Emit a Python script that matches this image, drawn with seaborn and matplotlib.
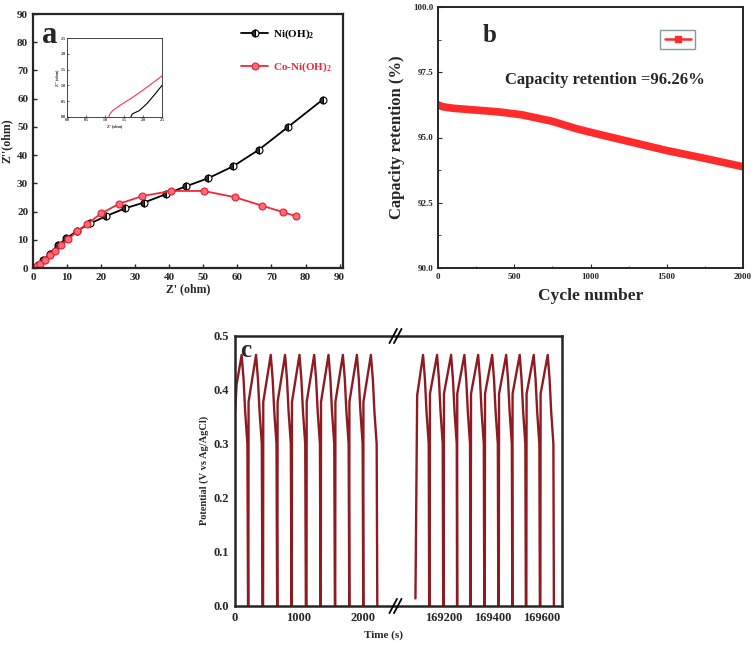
import numpy as np
import matplotlib
matplotlib.use('Agg')
import matplotlib.pyplot as plt
import seaborn as sns
from matplotlib.lines import Line2D

sns.set_style('ticks')
plt.rcParams['font.family'] = ['Liberation Serif', 'DejaVu Serif']
plt.rcParams['font.weight'] = 'bold'
plt.rcParams['axes.labelweight'] = 'bold'
plt.rcParams['mathtext.fontset'] = 'custom'
plt.rcParams['mathtext.rm'] = 'Liberation Serif:bold'
plt.rcParams['mathtext.bf'] = 'Liberation Serif:bold'
plt.rcParams['mathtext.it'] = 'Liberation Serif:italic:bold'
plt.rcParams['mathtext.default'] = 'bf'
plt.rcParams['xtick.direction'] = 'in'
plt.rcParams['ytick.direction'] = 'in'

# ---- panel a : Nyquist plot ----
ni_x = [0.8, 1.5, 2.9, 4.9, 7.3, 9.8, 12.9, 16.8, 21.5, 26.9, 32.6, 38.9, 44.8, 51.4, 58.7, 66.3, 74.9, 85.1]
ni_y = [0.4, 1.0, 2.7, 5.1, 8.1, 10.5, 13.1, 15.8, 18.4, 21.1, 23.2, 26.1, 28.9, 31.8, 36.0, 41.9, 50.0, 59.7]
coni_x = [1.2, 2.2, 3.4, 4.9, 6.4, 8.3, 10.3, 13.0, 15.9, 20.1, 25.2, 32.1, 40.6, 50.1, 59.2, 67.2, 73.4, 77.1]
coni_y = [0.6, 1.5, 3.0, 4.5, 6.1, 8.3, 10.1, 13.1, 15.6, 19.4, 22.7, 25.5, 27.3, 27.3, 25.1, 22.1, 19.8, 18.4]

# inset (high-frequency region)
ins_ni_x = [1.68, 1.72, 1.9, 2.1, 2.3, 2.5]
ins_ni_y = [0.0, 0.1, 0.2, 0.42, 0.7, 1.0]
ins_coni_x = [1.1, 1.12, 1.2, 1.4, 1.7, 2.0, 2.5]
ins_coni_y = [0.0, 0.08, 0.2, 0.37, 0.6, 0.85, 1.3]

# ---- panel b : cycling stability ----
cycles = [0, 30, 100, 250, 400, 550, 750, 900, 1000, 1250, 1500, 1750, 2000]
retention = [96.25, 96.18, 96.12, 96.05, 95.98, 95.87, 95.62, 95.35, 95.2, 94.85, 94.5, 94.2, 93.88]

# ---- panel c : charge/discharge cycles ----
left_peaks = [104, 329, 559, 783, 1008, 1238, 1462, 1687, 1906, 2125]
right_peaks = [169116, 169173, 169230, 169284, 169340, 169397, 169454, 169509, 169566, 169623]
v_peak = 0.465
left_start_t, left_start_v = [0, 25], [0.356, 0.41]
right_start_t, right_start_v = [169085, 169092], [0.014, 0.39]
left_chg_dt, left_chg_v = [-120, -117], [0.0, 0.378]
right_chg_dt, right_chg_v = [-30, -29], [0.0, 0.393]
left_dis_dt, left_dis_v = [30, 55, 90, 100], [0.42, 0.36, 0.30, 0.0]
right_dis_dt, right_dis_v = [7.5, 14, 23, 25], [0.42, 0.36, 0.30, 0.0]


def build_gcd(peaks, start_t, start_v, chg_dt, chg_v, dis_dt, dis_v):
    t, v = list(start_t), list(start_v)
    for i, tp in enumerate(peaks):
        if i > 0:
            t += [tp + d for d in chg_dt]
            v += chg_v
        t.append(tp)
        v.append(v_peak)
        t += [tp + d for d in dis_dt]
        v += dis_v
    return t, v


W, H = 756, 646
fig = plt.figure(figsize=(W / 100, H / 100), dpi=100)


def box(l, t, r, b):
    return [l / W, 1 - b / H, (r - l) / W, (b - t) / H]


# ================= a =================
ax_a = fig.add_axes(box(33, 14, 343, 268))
sns.lineplot(x=ni_x, y=ni_y, ax=ax_a, color='black', lw=1.3, marker='o', markersize=5,
             fillstyle='left', markerfacecoloralt='white', markeredgecolor='black',
             markerfacecolor='#333333', markeredgewidth=0.8, sort=False, estimator=None,
             label='Ni(OH)$_2$')
sns.lineplot(x=coni_x, y=coni_y, ax=ax_a, color='#f0283c', lw=1.3, marker='o', markersize=5,
             markerfacecolor='#ff6a78', markeredgecolor='#e8202e', markeredgewidth=0.8,
             sort=False, estimator=None, label='Co-Ni(OH)$_2$')
ax_a.set_xlim(0, 91)
ax_a.set_ylim(0, 90)
ax_a.set_xticks(range(0, 91, 10))
ax_a.set_yticks(range(0, 91, 10))
ax_a.tick_params(labelsize=8, length=3, width=1)
for s in ax_a.spines.values():
    s.set_linewidth(1.6)
ax_a.set_xlabel("Z' (ohm)", fontsize=8.5, labelpad=1)
ax_a.set_ylabel("Z''(ohm)", fontsize=8.5, labelpad=3)
leg = ax_a.legend(loc='upper left', bbox_to_anchor=(0.64, 0.985), frameon=False,
                  fontsize=8, labelspacing=1.7, handlelength=2.4, handletextpad=0.4,
                  labelcolor=['black', '#f0283c'])
ax_a.text(0.03, 0.915, 'a', transform=ax_a.transAxes, fontsize=22, fontweight='bold',
          va='center', ha='left')

ax_in = fig.add_axes(box(67, 38, 162, 117))
sns.lineplot(x=ins_coni_x, y=ins_coni_y, ax=ax_in, color='#ff3050', lw=0.8, sort=False, estimator=None)
sns.lineplot(x=ins_ni_x, y=ins_ni_y, ax=ax_in, color='black', lw=0.8, sort=False, estimator=None)
ax_in.set_xlim(0, 2.5)
ax_in.set_ylim(0, 2.5)
ax_in.set_xticks(np.arange(0, 2.6, 0.5))
ax_in.set_yticks(np.arange(0, 2.6, 0.5))
ax_in.tick_params(labelsize=3, length=1.5, width=0.5, pad=1)
for s in ax_in.spines.values():
    s.set_linewidth(0.6)
ax_in.set_xlabel("Z' (ohm)", fontsize=3, labelpad=1)
ax_in.set_ylabel("Z'' (ohm)", fontsize=3, labelpad=1)

# ================= b =================
ax_b = fig.add_axes(box(438, 7, 743, 268))
sns.lineplot(x=cycles, y=retention, ax=ax_b, color='#ff2a2a', lw=5.5, sort=False, estimator=None)
ax_b.set_xlim(0, 2000)
ax_b.set_ylim(90, 100)
ax_b.set_xticks([0, 500, 1000, 1500, 2000])
ax_b.set_xticks(np.arange(0, 2001, 250), minor=True)
ax_b.set_yticks([90, 92.5, 95, 97.5, 100])
ax_b.set_yticks(np.arange(90, 100.1, 1.25), minor=True)
ax_b.yaxis.set_major_formatter(matplotlib.ticker.FormatStrFormatter('%.1f'))
ax_b.tick_params(labelsize=6.5, length=3, width=0.8)
ax_b.tick_params(which='minor', length=1.8, width=0.6)
for s in ax_b.spines.values():
    s.set_linewidth(1.4)
ax_b.set_xlabel('Cycle number', fontsize=12.5, labelpad=5)
ax_b.set_ylabel('Capacity retention (%)', fontsize=12, labelpad=6)
ax_b.text(0.17, 0.89, 'b', transform=ax_b.transAxes, fontsize=18, fontweight='bold',
          va='center', ha='center')
ax_b.text(0.22, 0.72, 'Capacity retention =96.26%', transform=ax_b.transAxes,
          fontsize=12, fontweight='bold', va='center', ha='left')
hnd = Line2D([], [], color='#ff2a2a', lw=1.8, marker='s', markersize=4)
ax_b.legend([hnd], [''], loc='upper right', bbox_to_anchor=(0.86, 0.93), fontsize=7,
            handlelength=2.6, handletextpad=0, borderpad=0.5, fancybox=False,
            edgecolor='#8a9a9a', framealpha=1)

# ================= c =================
lt, lv = build_gcd(left_peaks, left_start_t, left_start_v, left_chg_dt, left_chg_v,
                   left_dis_dt, left_dis_v)
rt, rv = build_gcd(right_peaks, right_start_t, right_start_v, right_chg_dt, right_chg_v,
                   right_dis_dt, right_dis_v)
c_col = '#8e1b22'
ax_c1 = fig.add_axes(box(235, 336, 397, 606))
ax_c2 = fig.add_axes(box(397, 336, 562, 606), sharey=ax_c1)
sns.lineplot(x=lt, y=lv, ax=ax_c1, color=c_col, lw=1.7, sort=False, estimator=None)
sns.lineplot(x=rt, y=rv, ax=ax_c2, color=c_col, lw=1.7, sort=False, estimator=None)
ax_c1.set_xlim(0, 2533)
ax_c2.set_xlim(169010, 169681)
ax_c1.set_ylim(0, 0.5)
ax_c1.set_xticks([0, 1000, 2000])
ax_c2.set_xticks([169200, 169400, 169600])
ax_c1.set_yticks(np.arange(0, 0.51, 0.1))
ax_c1.yaxis.set_major_formatter(matplotlib.ticker.FormatStrFormatter('%.1f'))
ax_c1.spines['right'].set_visible(False)
ax_c2.spines['left'].set_visible(False)
ax_c2.tick_params(axis='y', left=False, labelleft=False)
for a in (ax_c1, ax_c2):
    a.tick_params(labelsize=9, length=0, pad=4)
    for s in a.spines.values():
        s.set_linewidth(1.8)
# axis break marks
bx = 397 / W
for yy in (1 - 336 / H, 1 - 606 / H):
    for dx in (-0.006, 0.0):
        fig.add_artist(Line2D([bx + dx - 0.004, bx + dx + 0.006], [yy - 0.011, yy + 0.011],
                              transform=fig.transFigure, color='black', lw=1.3))
ax_c1.text(0.03, 0.945, 'c', transform=ax_c1.transAxes, fontsize=18, fontweight='bold',
           va='center', ha='left')
fig.text(383 / W, 1 - 635 / H, 'Time (s)', fontsize=8, fontweight='bold', ha='center', va='center')
fig.text(204 / W, 1 - 470 / H, 'Potential (V vs Ag/AgCl)', fontsize=7.5, fontweight='bold',
         rotation=90, ha='center', va='center')

fig.savefig('out.png', dpi=100)
